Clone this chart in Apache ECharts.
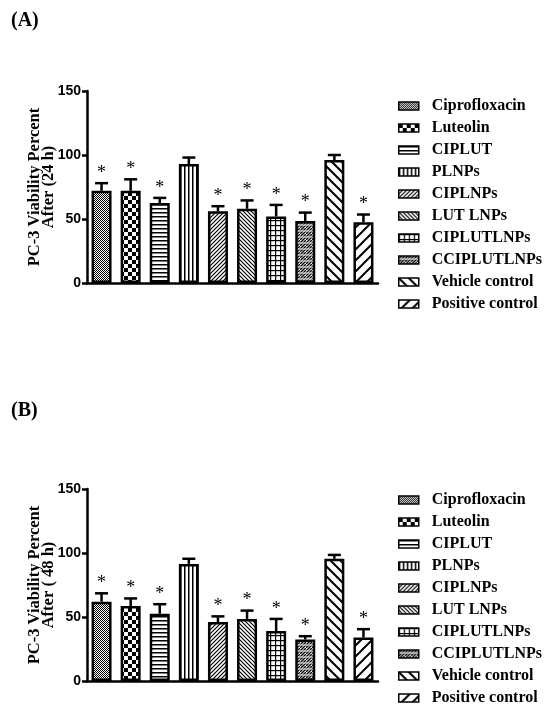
<!DOCTYPE html>
<html>
<head>
<meta charset="utf-8">
<title>PC-3 viability</title>
<script src="https://cdn.jsdelivr.net/npm/echarts@6/dist/echarts.min.js"></script>
<style>
    html, body { margin: 0; padding: 0; background: #fff; }
    #chart { width: 550px; height: 714px; }
</style>
</head>
<body>
<div id="chart"></div>
<script>
(function () {

    "use strict";

    /** data */
    var categories = ['Ciprofloxacin', 'Luteolin', 'CIPLUT', 'PLNPs', 'CIPLNPs', 'LUT LNPs',
        'CIPLUTLNPs', 'CCIPLUTLNPs', 'Vehicle control', 'Positive control'];
    var mean24 = [72, 72, 62.5, 93, 56, 58, 52, 48.5, 96, 47.5];
    var err24 = [6, 9, 4, 5, 4, 6.5, 9, 6.5, 4, 6];
    var mean48 = [62, 58.5, 52.5, 91.5, 46, 48.5, 39, 32.5, 95.5, 34];
    var err48 = [6.5, 6, 7.5, 4, 4.5, 6.5, 9.5, 2.5, 3, 6.5];
    var stars = [1, 1, 1, 0, 1, 1, 1, 1, 0, 1];
    var yTicks = [0, 50, 100, 150];

    var serif = 'Liberation Serif';
    var sans = 'Liberation Sans';

    /** hatch fills, one per group */
    function makePattern(kind) {
        var c = document.createElement('canvas');
        var s = 4, ctx, i;
        if (kind === 'dots') s = 2;
        if (kind === 'checker') s = 8;
        if (kind === 'grid') s = 5;
        if (kind === 'dashdiag') s = 6;
        if (kind === 'wbdiag') s = 10;
        if (kind === 'wdiag') s = 11;
        c.width = s;
        c.height = s;
        ctx = c.getContext('2d');
        ctx.fillStyle = '#fff';
        ctx.fillRect(0, 0, s, s);
        ctx.fillStyle = '#000';
        ctx.strokeStyle = '#000';
        ctx.lineWidth = 1.2;

        function slash() {
            ctx.beginPath();
            ctx.moveTo(-1, 1); ctx.lineTo(1, -1);
            ctx.moveTo(0, s); ctx.lineTo(s, 0);
            ctx.moveTo(s - 1, s + 1); ctx.lineTo(s + 1, s - 1);
            ctx.stroke();
        }
        function backslash() {
            ctx.beginPath();
            ctx.moveTo(0, 0); ctx.lineTo(s, s);
            ctx.moveTo(-1, s - 1); ctx.lineTo(1, s + 1);
            ctx.moveTo(s - 1, -1); ctx.lineTo(s + 1, 1);
            ctx.stroke();
        }

        switch (kind) {
            case 'dots':
                ctx.fillRect(0, 0, 1, 1);
                ctx.fillRect(1, 1, 1, 1);
                break;
            case 'checker':
                ctx.fillRect(0, 0, 4, 4);
                ctx.fillRect(4, 4, 4, 4);
                break;
            case 'hlines':
                ctx.fillRect(0, 0, s, 1.5);
                break;
            case 'vlines':
                ctx.fillRect(0, 0, 1.5, s);
                break;
            case 'diag':
                slash();
                break;
            case 'bdiag':
                backslash();
                break;
            case 'grid':
                ctx.fillRect(0, 0, s, 1.2);
                ctx.fillRect(0, 0, 1.2, s);
                break;
            case 'dashdiag':
                ctx.lineWidth = 1.4;
                ctx.beginPath();
                for (i = -1; i <= 1; i++) {
                    ctx.moveTo(i * 3 - 1, s + 1);
                    ctx.lineTo(i * 3 + s + 1, -1);
                }
                ctx.stroke();
                ctx.fillStyle = '#fff';
                ctx.fillRect(0, 2.5, s, 1);
                break;
            case 'wbdiag':
                ctx.lineWidth = 2;
                backslash();
                break;
            case 'wdiag':
                ctx.lineWidth = 2;
                slash();
                break;
        }
        return {image: c, repeat: 'repeat'};
    }

    var patternKinds = ['dots', 'checker', 'hlines', 'vlines', 'diag', 'bdiag',
        'grid', 'dashdiag', 'wbdiag', 'wdiag'];
    var fills = patternKinds.map(makePattern);

    /** error bar + asterisk */
    function renderError(params, api) {
        var idx = api.value(0);
        var m = api.value(1);
        var e = api.value(2);
        var p0 = api.coord([idx, m]);
        var p1 = api.coord([idx, m + e]);
        var cap = 6.5;
        var lineStyle = {stroke: '#000', lineWidth: 2.5};
        var children = [
            {type: 'line', shape: {x1: p0[0], y1: p0[1], x2: p1[0], y2: p1[1]}, style: lineStyle},
            {type: 'line', shape: {x1: p1[0] - cap, y1: p1[1], x2: p1[0] + cap, y2: p1[1]}, style: lineStyle}
        ];
        if (api.value(3)) {
            children.push({
                type: 'text',
                style: {
                    text: '*', x: p1[0], y: p1[1] - 1,
                    align: 'center', verticalAlign: 'bottom',
                    font: '18px "' + serif + '"', fill: '#000'
                }
            });
        }
        return {type: 'group', children: children};
    }

    var panels = [
        {label: '(A)', labelTop: 6, top: 91, legendTop: 98, means: mean24, errs: err24, name: 'PC-3 Viability Percent\nAfter (24 h)'},
        {label: '(B)', labelTop: 396, top: 489, legendTop: 492, means: mean48, errs: err48, name: 'PC-3 Viability Percent\nAfter ( 48 h)'}
    ];

    var titles = [], grids = [], xAxes = [], yAxes = [], legends = [], series = [];

    panels.forEach(function (p, k) {
        titles.push({
            text: p.label, left: 6, top: p.labelTop,
            textStyle: {fontFamily: serif, fontWeight: 'bold', fontSize: 20, color: '#000'}
        });
        grids.push({left: 87, top: p.top, height: 192, width: 291});
        xAxes.push({
            type: 'category', gridIndex: k, data: categories,
            axisLine: {lineStyle: {color: '#000', width: 2.5}},
            axisTick: {alignWithLabel: true, length: 5, lineStyle: {color: '#000', width: 2}},
            axisLabel: {show: false}
        });
        yAxes.push({
            type: 'value', gridIndex: k, min: yTicks[0], max: yTicks[yTicks.length - 1], interval: 50,
            name: p.name, nameLocation: 'middle', nameGap: 31, nameMoveOverlap: false,
            nameTextStyle: {fontFamily: serif, fontWeight: 'bold', fontSize: 16.5, lineHeight: 14, color: '#000'},
            axisLine: {show: true, lineStyle: {color: '#000', width: 2.5}},
            axisTick: {show: true, length: 5, lineStyle: {color: '#000', width: 2.5}},
            axisLabel: {margin: 6, fontFamily: sans, fontWeight: 'bold', fontSize: 14, color: '#000'},
            splitLine: {show: false}
        });
        legends.push({
            orient: 'vertical', left: 398, top: p.legendTop, padding: 0,
            data: categories, icon: 'rect', itemWidth: 20, itemHeight: 8, itemGap: 6,
            selectedMode: false,
            itemStyle: {borderColor: '#000', borderWidth: 1.5},
            textStyle: {fontFamily: serif, fontWeight: 'bold', fontSize: 16, lineHeight: 16, color: '#000', padding: [0, 0, 0, 8]}
        });

        categories.forEach(function (c, i) {
            var d = categories.map(function (x, j) {
                return j === i ? p.means[j] : '-';
            });
            series.push({
                name: c, type: 'bar', xAxisIndex: k, yAxisIndex: k,
                stack: 'panel' + k, barWidth: 20, data: d,
                itemStyle: {color: fills[i], borderColor: '#000', borderWidth: 2.5},
                silent: true
            });
        });

        series.push({
            type: 'custom', xAxisIndex: k, yAxisIndex: k, z: 5,
            renderItem: renderError, silent: true,
            data: categories.map(function (c, i) {
                return [i, p.means[i], p.errs[i], stars[i]];
            })
        });
    });

    var myChart = echarts.init(document.getElementById('chart'));
    myChart.setOption({
        animation: false,
        backgroundColor: '#fff',
        title: titles,
        grid: grids,
        xAxis: xAxes,
        yAxis: yAxes,
        legend: legends,
        series: series
    });

})();
</script>
</body>
</html>
